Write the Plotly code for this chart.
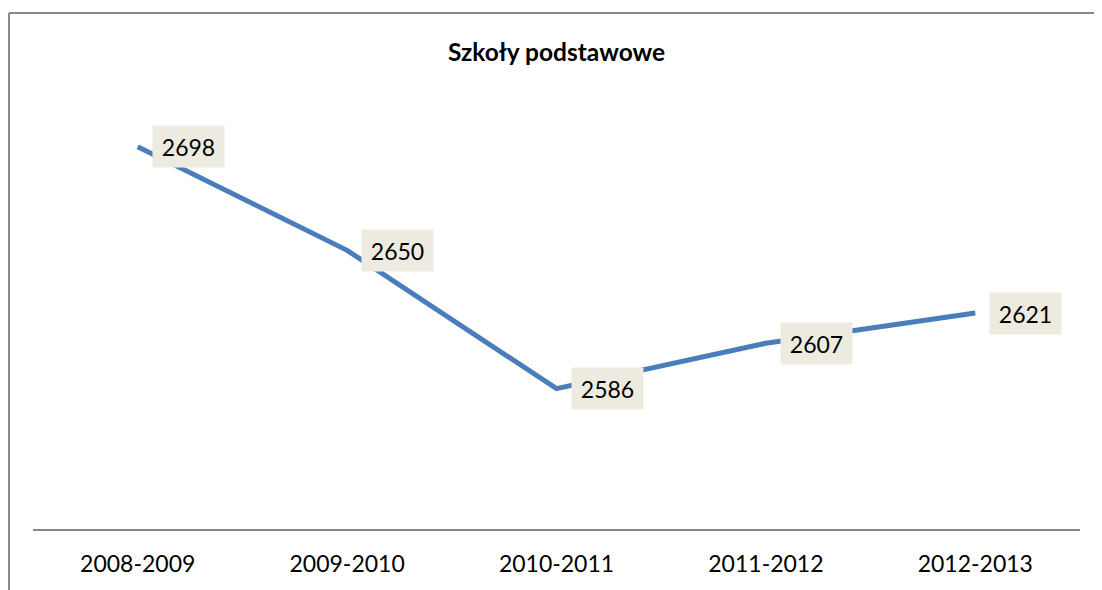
import plotly.graph_objects as go

categories = ["2008-2009", "2009-2010", "2010-2011", "2011-2012", "2012-2013"]
values = [2698, 2650, 2586, 2607, 2621]
title_text = "Szkoły podstawowe"

FONT = "Lato, 'Open Sans', sans-serif"

# page body has an 8px offset; plot area in figure coords: x 25..1072, y 89..521
L, R_EDGE, T, B_EDGE = 25, 1072, 89, 521
W, H = 1102, 590

fig = go.Figure()
fig.add_trace(go.Scatter(
    x=categories, y=values, mode="lines",
    line=dict(color="#4A7EBB", width=5),
    hoverinfo="skip", showlegend=False,
))

for c, v in zip(categories, values):
    fig.add_annotation(
        x=c, y=v, xref="x", yref="y", text=str(v), showarrow=False,
        xanchor="left", yanchor="middle", xshift=14,
        width=71, height=41, borderpad=0, bgcolor="#EDEBE0",
        font=dict(family=FONT, size=23, color="#000000"),
    )

# outer chart border (left and top edges)
pw = R_EDGE - L
ph = B_EDGE - T
bx = (1 - L) / pw
by = (B_EDGE - 5) / ph
fig.add_shape(type="line", xref="paper", yref="paper", x0=bx, x1=bx, y0=-0.3, y1=by,
              line=dict(color="#898989", width=2))
fig.add_shape(type="line", xref="paper", yref="paper", x0=bx, x1=1.1, y0=by, y1=by,
              line=dict(color="#898989", width=2))

fig.update_layout(
    width=W, height=H,
    margin=dict(l=L, r=W - R_EDGE, t=T, b=H - B_EDGE),
    paper_bgcolor="white", plot_bgcolor="white",
    title=dict(text="<b>" + title_text + "</b>", x=0.5, xref="paper", xanchor="center",
               y=1 - 44 / H, yref="container", yanchor="middle",
               font=dict(family=FONT, size=24.5, color="#000000")),
    xaxis=dict(type="category", range=[-0.5, 4.5], showgrid=False, zeroline=False,
               showline=True, linecolor="#868686", linewidth=1.5, ticks="",
               tickfont=dict(family=FONT, size=23, color="#000000"), ticklabelstandoff=14),
    yaxis=dict(range=[2521, 2721], visible=False, showgrid=False, zeroline=False),
)

fig.write_html("out.html")
